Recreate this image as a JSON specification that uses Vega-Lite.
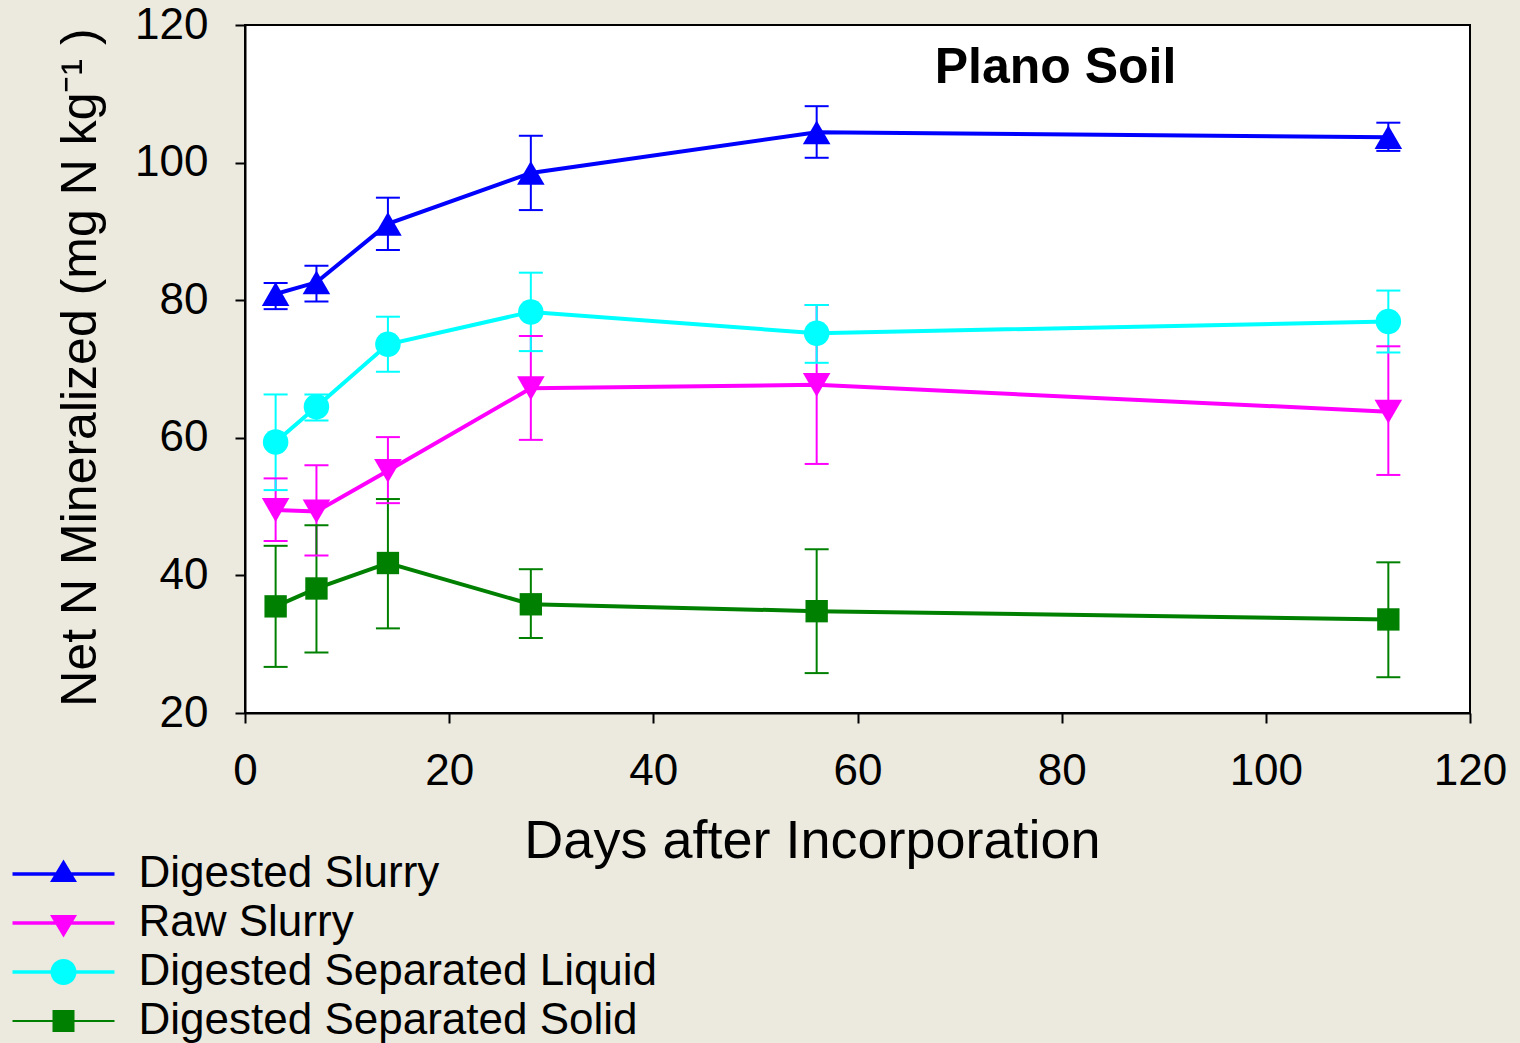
{
  "$schema": "https://vega.github.io/schema/vega-lite/v6.json",
  "width": 1225,
  "height": 688,
  "autosize": {"type": "none"},
  "padding": {"left": 245, "top": 25, "right": 50, "bottom": 330},
  "background": "#ECE9DF",
  "config": {
    "font": "Liberation Sans",
    "view": {"fill": "white", "stroke": "black", "strokeWidth": 2},
    "axis": {
      "grid": false,
      "domainColor": "black",
      "domainWidth": 2,
      "tickColor": "black",
      "tickWidth": 2,
      "tickSize": 10,
      "labelColor": "black",
      "labelFontSize": 44,
      "labelFlush": false,
      "labelOverlap": false,
      "titleColor": "black",
      "titleFontWeight": "normal"
    }
  },
  "data": {
    "values": [
      {"series": "Digested Slurry", "day": 3, "mean": 80.9, "lo": 78.7, "hi": 82.5},
      {"series": "Digested Slurry", "day": 7, "mean": 82.6, "lo": 79.8, "hi": 85.0},
      {"series": "Digested Slurry", "day": 14, "mean": 91.1, "lo": 87.3, "hi": 94.9},
      {"series": "Digested Slurry", "day": 28, "mean": 98.5, "lo": 93.1, "hi": 103.9},
      {"series": "Digested Slurry", "day": 56, "mean": 104.4, "lo": 100.7, "hi": 108.2},
      {"series": "Digested Slurry", "day": 112, "mean": 103.7, "lo": 101.7, "hi": 105.8},
      {"series": "Raw Slurry", "day": 3, "mean": 49.5, "lo": 45.0, "hi": 54.1},
      {"series": "Raw Slurry", "day": 7, "mean": 49.3, "lo": 42.9, "hi": 56.0},
      {"series": "Raw Slurry", "day": 14, "mean": 55.2, "lo": 50.5, "hi": 60.1},
      {"series": "Raw Slurry", "day": 28, "mean": 67.2, "lo": 59.7, "hi": 74.8},
      {"series": "Raw Slurry", "day": 56, "mean": 67.7, "lo": 56.2, "hi": 79.3},
      {"series": "Raw Slurry", "day": 112, "mean": 63.8, "lo": 54.6, "hi": 73.3},
      {"series": "Digested Separated Liquid", "day": 3, "mean": 59.4, "lo": 52.4, "hi": 66.3},
      {"series": "Digested Separated Liquid", "day": 7, "mean": 64.5, "lo": 62.5, "hi": 66.3},
      {"series": "Digested Separated Liquid", "day": 14, "mean": 73.6, "lo": 69.6, "hi": 77.6},
      {"series": "Digested Separated Liquid", "day": 28, "mean": 78.3, "lo": 72.6, "hi": 84.0},
      {"series": "Digested Separated Liquid", "day": 56, "mean": 75.2, "lo": 70.9, "hi": 79.3},
      {"series": "Digested Separated Liquid", "day": 112, "mean": 76.9, "lo": 72.4, "hi": 81.4},
      {"series": "Digested Separated Solid", "day": 3, "mean": 35.5, "lo": 26.7, "hi": 44.3},
      {"series": "Digested Separated Solid", "day": 7, "mean": 38.1, "lo": 28.8, "hi": 47.3},
      {"series": "Digested Separated Solid", "day": 14, "mean": 41.8, "lo": 32.3, "hi": 51.1},
      {"series": "Digested Separated Solid", "day": 28, "mean": 35.8, "lo": 30.9, "hi": 40.9},
      {"series": "Digested Separated Solid", "day": 56, "mean": 34.8, "lo": 25.8, "hi": 43.8},
      {"series": "Digested Separated Solid", "day": 112, "mean": 33.6, "lo": 25.2, "hi": 41.9}
    ]
  },
  "encoding": {
    "x": {
      "field": "day",
      "type": "quantitative",
      "scale": {"domain": [0, 120], "nice": false},
      "axis": {
        "values": [0, 20, 40, 60, 80, 100, 120],
        "labelPadding": 26,
        "title": "Days after Incorporation",
        "titleFontSize": 54,
        "titleX": 567,
        "titleY": 144,
        "titleAlign": "center",
        "titleBaseline": "alphabetic"
      }
    },
    "y": {
      "field": "mean",
      "type": "quantitative",
      "scale": {"domain": [20, 120], "nice": false},
      "axis": {
        "values": [20, 40, 60, 80, 100, 120],
        "labelPadding": 27,
        "title": "Net N Mineralized (mg N kg⁻¹ )",
        "titleFontSize": 50,
        "titleAngle": 270,
        "titleX": -165,
        "titleY": 342,
        "titleAlign": "center",
        "titleBaseline": "middle"
      }
    },
    "color": {
      "field": "series",
      "type": "nominal",
      "scale": {
        "domain": ["Digested Slurry", "Raw Slurry", "Digested Separated Liquid", "Digested Separated Solid"],
        "range": ["#0000FF", "#FF00FF", "#00FFFF", "#008000"]
      },
      "legend": {
        "title": null,
        "orient": "none",
        "legendX": -203.5,
        "legendY": 827,
        "padding": 0,
        "symbolSize": 400,
        "symbolStrokeWidth": 3,
        "labelFontSize": 44,
        "labelColor": "black",
        "labelOffset": 53,
        "labelLimit": 1000,
        "rowPadding": 5,
        "encode": {
          "symbols": {
            "update": {
              "shape": {"signal": "datum.value === 'Digested Slurry' ? 'M-5.1,-0.17H5.1V0.17H-5.1ZM0,-1.45L1.35,0.8L-1.35,0.8Z' : datum.value === 'Raw Slurry' ? 'M-5.1,-0.17H5.1V0.17H-5.1ZM-1.35,-0.8L1.35,-0.8L0,1.45Z' : datum.value === 'Digested Separated Liquid' ? 'M-5.1,-0.17H5.1V0.17H-5.1ZM-1.3,0A1.3,1.3 0 1,1 1.3,0A1.3,1.3 0 1,1 -1.3,0Z' : 'M-5.1,-0.1H5.1V0.1H-5.1ZM-1.1,-1.1H1.1V1.1H-1.1Z'"},
              "fill": {"scale": "color", "field": "value"},
              "strokeWidth": {"value": 0},
              "opacity": {"value": 1}
            }
          }
        }
      }
    }
  },
  "layer": [
    {
      "mark": {"type": "rule", "strokeWidth": 2},
      "encoding": {
        "y": {
          "field": "lo",
          "type": "quantitative",
          "axis": {
            "values": [20, 40, 60, 80, 100, 120],
            "labelPadding": 27,
            "title": "Net N Mineralized (mg N kg⁻¹ )",
            "titleFontSize": 50,
            "titleAngle": 270,
            "titleX": -165,
            "titleY": 342,
            "titleAlign": "center",
            "titleBaseline": "middle"
          }
        },
        "y2": {"field": "hi"}
      }
    },
    {
      "mark": {"type": "tick", "orient": "horizontal", "size": 24, "thickness": 2, "opacity": 1},
      "encoding": {
        "y": {
          "field": "lo",
          "type": "quantitative",
          "axis": {
            "values": [20, 40, 60, 80, 100, 120],
            "labelPadding": 27,
            "title": "Net N Mineralized (mg N kg⁻¹ )",
            "titleFontSize": 50,
            "titleAngle": 270,
            "titleX": -165,
            "titleY": 342,
            "titleAlign": "center",
            "titleBaseline": "middle"
          }
        }
      }
    },
    {
      "mark": {"type": "tick", "orient": "horizontal", "size": 24, "thickness": 2, "opacity": 1},
      "encoding": {
        "y": {
          "field": "hi",
          "type": "quantitative",
          "axis": {
            "values": [20, 40, 60, 80, 100, 120],
            "labelPadding": 27,
            "title": "Net N Mineralized (mg N kg⁻¹ )",
            "titleFontSize": 50,
            "titleAngle": 270,
            "titleX": -165,
            "titleY": 342,
            "titleAlign": "center",
            "titleBaseline": "middle"
          }
        }
      }
    },
    {
      "mark": {"type": "line", "strokeWidth": 4},
      "encoding": {}
    },
    {
      "transform": [{"filter": {"field": "series", "equal": "Digested Slurry"}}],
      "mark": {"type": "point", "shape": "triangle-up", "size": 760, "filled": true, "opacity": 1},
      "encoding": {}
    },
    {
      "transform": [{"filter": {"field": "series", "equal": "Raw Slurry"}}],
      "mark": {"type": "point", "shape": "triangle-down", "size": 760, "filled": true, "opacity": 1},
      "encoding": {}
    },
    {
      "transform": [{"filter": {"field": "series", "equal": "Digested Separated Liquid"}}],
      "mark": {"type": "point", "shape": "circle", "size": 650, "filled": true, "opacity": 1},
      "encoding": {}
    },
    {
      "transform": [{"filter": {"field": "series", "equal": "Digested Separated Solid"}}],
      "mark": {"type": "point", "shape": "square", "size": 500, "filled": true, "opacity": 1},
      "encoding": {}
    },
    {
      "data": {"values": [{"label": "Plano Soil", "px": 79.4, "py": 111.6}]},
      "mark": {"type": "text", "fontSize": 50, "fontWeight": "bold", "align": "center", "baseline": "alphabetic", "color": "black"},
      "encoding": {
        "x": {
          "field": "px",
          "type": "quantitative",
          "axis": {
            "values": [0, 20, 40, 60, 80, 100, 120],
            "labelPadding": 26,
            "title": "Days after Incorporation",
            "titleFontSize": 54,
            "titleX": 567,
            "titleY": 144,
            "titleAlign": "center",
            "titleBaseline": "alphabetic"
          }
        },
        "y": {
          "field": "py",
          "type": "quantitative",
          "axis": {
            "values": [20, 40, 60, 80, 100, 120],
            "labelPadding": 27,
            "title": "Net N Mineralized (mg N kg⁻¹ )",
            "titleFontSize": 50,
            "titleAngle": 270,
            "titleX": -165,
            "titleY": 342,
            "titleAlign": "center",
            "titleBaseline": "middle"
          }
        },
        "text": {"field": "label"},
        "color": {"value": "black"}
      }
    }
  ]
}
